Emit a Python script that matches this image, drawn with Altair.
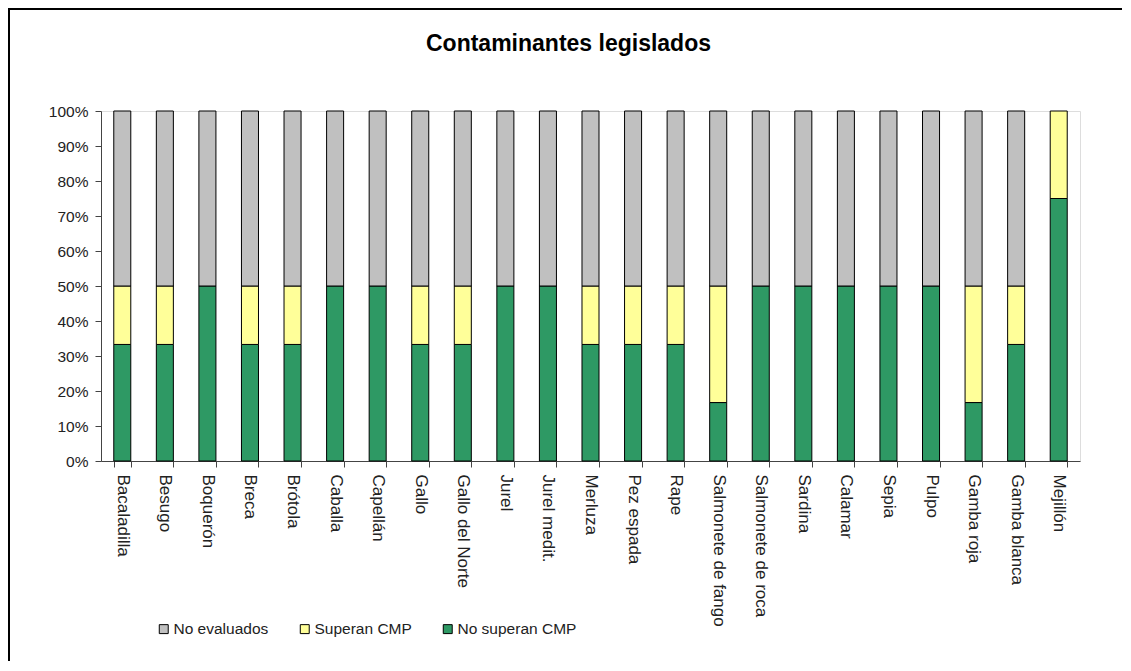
import altair as alt
import pandas as pd

especies = ["Bacaladilla", "Besugo", "Boquerón", "Breca", "Brótola", "Caballa", "Capellán",
            "Gallo", "Gallo del Norte", "Jurel", "Jurel medit.", "Merluza", "Pez espada", "Rape",
            "Salmonete de fango", "Salmonete de roca", "Sardina", "Calamar", "Sepia", "Pulpo",
            "Gamba roja", "Gamba blanca", "Mejillón"]
no_superan = [33.3, 33.3, 50, 33.3, 33.3, 50, 50, 33.3, 33.3, 50, 50, 33.3, 33.3, 33.3,
              16.7, 50, 50, 50, 50, 50, 16.7, 33.3, 75]
superan = [16.7, 16.7, 0, 16.7, 16.7, 0, 0, 16.7, 16.7, 0, 0, 16.7, 16.7, 16.7,
           33.3, 0, 0, 0, 0, 0, 33.3, 16.7, 25]
no_evaluados = [50, 50, 50, 50, 50, 50, 50, 50, 50, 50, 50, 50, 50, 50,
                50, 50, 50, 50, 50, 50, 50, 50, 0]

series = ["No evaluados", "Superan CMP", "No superan CMP"]
colores = ["#C0C0C0", "#FFFF99", "#2E9964"]

rows = []
for i, e in enumerate(especies):
    for orden, (s, vals) in enumerate([("No superan CMP", no_superan),
                                       ("Superan CMP", superan),
                                       ("No evaluados", no_evaluados)]):
        rows.append({"especie": e, "serie": s, "valor": vals[i], "orden": orden})
df = pd.DataFrame(rows)
df = df[df["valor"] > 0]

FONT = "Liberation Sans"

bars = alt.Chart(df).mark_bar(stroke="black", strokeWidth=1).encode(
    x=alt.X("especie:N", sort=especies, title=None,
            scale=alt.Scale(paddingInner=0.6, paddingOuter=0.3),
            axis=alt.Axis(labelAngle=90, labelAlign="left", labelBaseline="middle",
                          ticks=True, tickBand="extent", tickSize=6, tickColor="#444",
                          labelPadding=7, labelFontSize=17,
                          labelFont=FONT, labelColor="#222", domainColor="#444",
                          labelLimit=300)),
    y=alt.Y("valor:Q", stack="normalize", title=None,
            scale=alt.Scale(domain=[0, 1]),
            axis=alt.Axis(format=".0%", values=[i / 10 for i in range(11)],
                          grid=False, tickSize=6, tickColor="#444", domainColor="#444",
                          labelPadding=7, labelFontSize=15.5, labelFont=FONT,
                          labelColor="#222")),
    color=alt.Color("serie:N", sort=series,
                    scale=alt.Scale(domain=series, range=colores),
                    legend=alt.Legend(title=None, orient="none", direction="horizontal",
                                      legendX=55, legendY=510, symbolType="square",
                                      symbolSize=80, symbolStrokeColor="black",
                                      symbolStrokeWidth=1, labelFontSize=15.5,
                                      labelFont=FONT, labelColor="#222",
                                      columnPadding=28, labelOffset=2)),
    order=alt.Order("orden:Q"),
)

frame_left = alt.Chart(df).mark_rule(color="black", strokeWidth=2).encode(
    x=alt.value(-92), y=alt.value(-103), y2=alt.value(560)
)
frame_top = alt.Chart(df).mark_rule(color="black", strokeWidth=2).encode(
    x=alt.value(-93), x2=alt.value(1025), y=alt.value(-102)
)

chart = alt.layer(bars, frame_left, frame_top).properties(
    width=979, height=350,
    title=alt.Title("Contaminantes legislados", font=FONT, fontSize=23, fontWeight="bold",
                    color="black", anchor="middle", dx=-22, offset=-49),
).configure_view(stroke=None).configure(
    autosize=alt.AutoSizeParams(type="none"),
    padding={"left": 93, "top": 103, "right": 42, "bottom": 200},
)

chart.save("out.html", embed_options={"renderer": "svg", "actions": False})
